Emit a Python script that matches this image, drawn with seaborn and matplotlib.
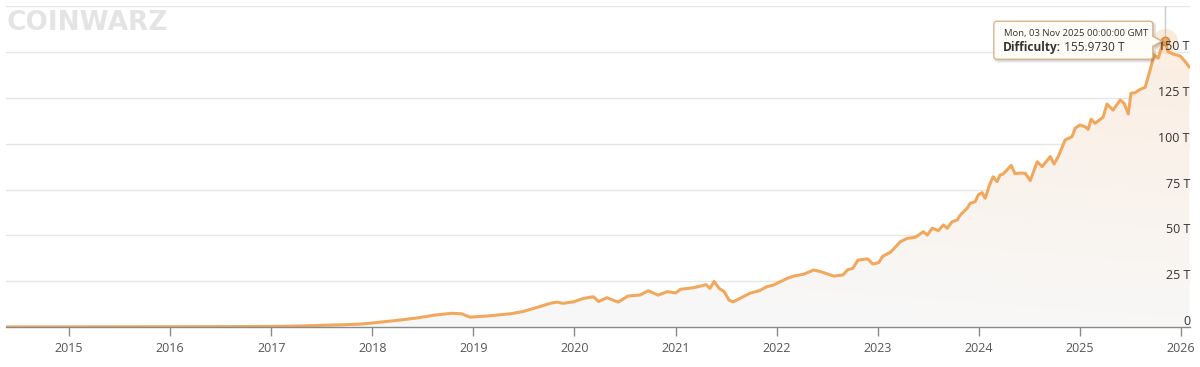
import numpy as np
import pandas as pd
import matplotlib
matplotlib.use("Agg")
import matplotlib.pyplot as plt
import matplotlib.dates as mdates
from matplotlib.patches import Polygon
from matplotlib.transforms import IdentityTransform, blended_transform_factory, offset_copy
import seaborn as sns

# ---------------- data ----------------
dates = [
    '2014-05-19', '2014-09-01', '2015-01-01', '2015-07-01', '2016-01-01', '2016-07-01',
    '2017-01-01', '2017-04-12', '2017-07-01', '2017-10-01', '2017-11-20', '2018-01-01',
    '2018-04-12', '2018-06-15', '2018-08-15', '2018-10-15', '2018-11-20', '2018-12-20',
    '2019-02-20', '2019-05-15', '2019-07-01', '2019-08-08', '2019-10-08', '2019-10-30',
    '2019-11-21', '2019-12-28', '2020-02-03', '2020-03-10', '2020-03-29', '2020-04-28',
    '2020-06-07', '2020-07-13', '2020-08-26', '2020-09-24', '2020-10-30', '2020-12-02',
    '2021-01-01', '2021-01-19', '2021-03-08', '2021-04-21', '2021-05-05', '2021-05-20',
    '2021-06-07', '2021-06-25', '2021-07-13', '2021-07-28', '2021-09-02', '2021-09-26',
    '2021-11-01', '2021-11-26', '2021-12-20', '2022-01-25', '2022-02-09', '2022-03-04',
    '2022-04-08', '2022-05-15', '2022-06-09', '2022-07-26', '2022-08-28', '2022-09-15',
    '2022-10-03', '2022-10-21', '2022-11-26', '2022-12-14', '2023-01-04', '2023-01-19',
    '2023-02-16', '2023-03-24', '2023-04-18', '2023-05-17', '2023-06-15', '2023-06-29',
    '2023-07-17', '2023-08-08', '2023-08-26', '2023-09-09', '2023-09-27', '2023-10-15',
    '2023-10-26', '2023-11-20', '2023-12-01', '2023-12-19', '2023-12-30', '2024-01-13',
    '2024-01-24', '2024-02-11', '2024-02-22', '2024-03-07', '2024-03-18', '2024-03-29',
    '2024-04-12', '2024-04-27', '2024-05-11', '2024-05-29', '2024-06-17', '2024-07-05',
    '2024-07-30', '2024-08-17', '2024-09-15', '2024-09-29', '2024-10-14', '2024-11-08',
    '2024-12-03', '2024-12-14', '2025-01-01', '2025-01-19', '2025-01-30', '2025-02-10',
    '2025-02-24', '2025-03-25', '2025-04-08', '2025-04-30', '2025-05-26', '2025-06-09',
    '2025-06-24', '2025-07-04', '2025-07-19', '2025-08-06', '2025-08-24', '2025-09-11',
    '2025-09-25', '2025-10-10', '2025-10-24', '2025-11-03', '2025-11-15', '2025-12-03',
    '2025-12-29', '2026-01-16', '2026-01-31',
]
difficulty_t = [
    0.01, 0.03, 0.04, 0.05, 0.11, 0.2,
    0.32, 0.55, 0.9, 1.3, 1.6, 2.2,
    3.8, 5.0, 6.5, 7.5, 7.2, 5.4,
    6.0, 7.2, 8.5, 10.2, 13.0, 13.6,
    12.9, 13.7, 15.6, 16.5, 13.9, 16.0,
    13.6, 16.9, 17.5, 19.8, 17.4, 19.3,
    18.6, 20.6, 21.5, 23.1, 21.1, 24.9,
    21.1, 19.4, 14.6, 13.7, 16.5, 18.4,
    19.9, 22.0, 22.9, 25.5, 26.6, 27.8,
    28.8, 31.1, 30.2, 27.8, 28.4, 31.3,
    32.0, 36.5, 37.2, 34.4, 35.1, 38.6,
    40.8, 46.6, 48.4, 49.0, 52.0, 50.2,
    53.9, 52.6, 55.7, 53.9, 57.5, 58.4,
    61.1, 64.8, 67.5, 68.4, 72.1, 73.3,
    70.3, 78.4, 82.0, 79.3, 83.0, 83.5,
    85.7, 88.2, 83.7, 84.0, 83.9, 79.9,
    90.2, 87.5, 93.0, 89.0, 93.0, 102.1,
    103.9, 108.5, 110.3, 109.3, 107.9, 113.4,
    111.2, 114.5, 121.7, 118.4, 123.9, 122.1,
    116.3, 127.6, 127.9, 129.7, 130.8, 140.3,
    148.5, 146.7, 153.4, 155.973, 150.3, 149.0,
    147.9, 144.8, 141.8,
]
y_ticks = [0, 25, 50, 75, 100, 125, 150, 175]
y_tick_labels = ['0', '25 T', '50 T', '75 T', '100 T', '125 T', '150 T', '']
x_tick_labels = ['2015', '2016', '2017', '2018', '2019', '2020', '2021',
                 '2022', '2023', '2024', '2025', '2026']
x_range = ['2014-05-19', '2026-02-02']
tooltip_date = '2025-11-03'
tooltip_value = 155.9730
tooltip_title = 'Mon, 03 Nov 2025 00:00:00 GMT'
tooltip_label = 'Difficulty:'
watermark = 'COINWARZ'

# ---------------- style ----------------
sns.set_theme(style='white')
plt.rcParams['font.family'] = ['Open Sans', 'DejaVu Sans']

LINE = '#f2a85c'

df = pd.DataFrame({'date': pd.to_datetime(dates), 'difficulty': difficulty_t})

W, H = 1200, 367
fig = plt.figure(figsize=(W / 100, H / 100), dpi=100)
fig.patch.set_facecolor('white')
ax = fig.add_axes([6 / W, 40 / H, 1184 / W, (327 - 6.4) / H])
ax.set_facecolor('white')

xmin, xmax = pd.to_datetime(x_range[0]), pd.to_datetime(x_range[1])

# gradient area fill under the line
area = ax.fill_between(df['date'], df['difficulty'], 0, color='none', lw=0)
ny, nx = 200, 400
yf = np.linspace(1, 0, ny)[:, None]
xf = np.linspace(0, 1, nx)[None, :]
t = np.clip(0.9 * yf + 0.25 * xf - 0.2, 0, 1)[..., None]
low = np.array([0.972, 0.972, 0.972])
high = np.array([0.988, 0.925, 0.870])
img = low * (1 - t) + high * t
im = ax.imshow(img, extent=[mdates.date2num(xmin), mdates.date2num(xmax), 0, 175],
               aspect='auto', zorder=1, interpolation='bilinear')
im.set_clip_path(area.get_paths()[0], transform=ax.transData)

sns.lineplot(data=df, x='date', y='difficulty', color=LINE, linewidth=2.2,
             ax=ax, zorder=3, solid_joinstyle='round')

ax.set_xlim(xmin, xmax)
ax.set_ylim(0, 175)
ax.set_xlabel('')
ax.set_ylabel('')

# y axis: gridlines, labels drawn inside at the right, just above each gridline
ax.set_yticks(y_ticks)
ax.set_yticklabels([])
ax.tick_params(axis='y', length=0, left=False, right=False)
ytrans = offset_copy(blended_transform_factory(ax.transAxes, ax.transData),
                     fig=fig, x=0, y=-1, units='dots')
for v, lab in zip(y_ticks, y_tick_labels):
    if lab:
        ax.text(1.0, v, lab, transform=ytrans, ha='right', va='bottom',
                fontsize=9, color='#333333', zorder=6, clip_on=False)
ax.grid(axis='y', color='#e6e6e6', linewidth=1.0, zorder=0)
ax.grid(axis='x', visible=False)
ax.set_axisbelow(True)

# x axis
ax.set_xticks(pd.to_datetime([f'{y}-01-01' for y in x_tick_labels]))
ax.set_xticklabels(x_tick_labels)
ax.tick_params(axis='x', bottom=True, length=6.5, width=1, color='#8a8a8a',
               labelsize=9, labelcolor='#555555', pad=4)

for s in ['left', 'right', 'top']:
    ax.spines[s].set_visible(False)
ax.spines['bottom'].set_color('#8a8a8a')
ax.spines['bottom'].set_linewidth(1.0)
ax.spines['bottom'].set_zorder(4)

# watermark
fig.text(7 / W, 1 - 10 / H, watermark, ha='left', va='top', fontsize=19,
         fontweight='heavy', color='#e4e4e4', family=['DejaVu Sans'])

# ---------------- tooltip at the highlighted point ----------------
tdate = pd.to_datetime(tooltip_date)
ax.axvline(tdate, ymin=tooltip_value / 175, ymax=1.0, color='#cccccc', lw=1, zorder=2)
ax.plot([tdate], [tooltip_value], 'o', ms=18, color=LINE, alpha=0.22, zorder=4, mew=0)
ax.plot([tdate], [tooltip_value], 'o', ms=6, color=LINE, mec='#c98a45', mew=1, zorder=5)

fig.canvas.draw()
px, py = ax.transData.transform((mdates.date2num(tdate), tooltip_value))

l, r = px - 171, px - 12
t_, b_ = py + 20, py - 18
tipx, tipy = px - 3, py


def tooltip_shape(l, r, b, t, tipx, tipy, rad=3.0, hw=5.0):
    def arc(cx, cy, a0, a1):
        a = np.radians(np.linspace(a0, a1, 7))
        return list(zip(cx + rad * np.cos(a), cy + rad * np.sin(a)))
    pts = [(r, tipy - hw), (tipx, tipy), (r, tipy + hw)]
    pts += arc(r - rad, t - rad, 0, 90)
    pts += arc(l + rad, t - rad, 90, 180)
    pts += arc(l + rad, b + rad, 180, 270)
    pts += arc(r - rad, b + rad, 270, 360)
    return np.array(pts)


shape = tooltip_shape(l, r, b_, t_, tipx, tipy)
shadow = Polygon(shape + np.array([1.5, -1.5]), closed=True, transform=IdentityTransform(),
                 facecolor='#000000', alpha=0.10, edgecolor='#000000', lw=2.5, zorder=9)
box = Polygon(shape, closed=True, transform=IdentityTransform(),
              facecolor='#fffdf7', edgecolor='#d9b48f', lw=1.0, zorder=10)
fig.add_artist(shadow)
fig.add_artist(box)

fig.text(l + 10, py + 8, tooltip_title, transform=IdentityTransform(), ha='left',
         va='center', fontsize=6.8, color='#333333', zorder=11)
bold = fig.text(l + 9, py - 6, tooltip_label, transform=IdentityTransform(), ha='left',
                va='center', fontsize=8.6, fontweight='bold', color='#333333', zorder=11)
ann = plt.annotate(f' {tooltip_value:.4f} T', xy=(1, 0.5), xycoords=bold, ha='left',
                   va='center', fontsize=8.6, color='#333333', annotation_clip=False)
ann.remove()
ann.set_zorder(11)
fig.texts.append(ann)
ann.set_figure(fig)

fig.savefig('out.png', dpi=100, facecolor='white')
